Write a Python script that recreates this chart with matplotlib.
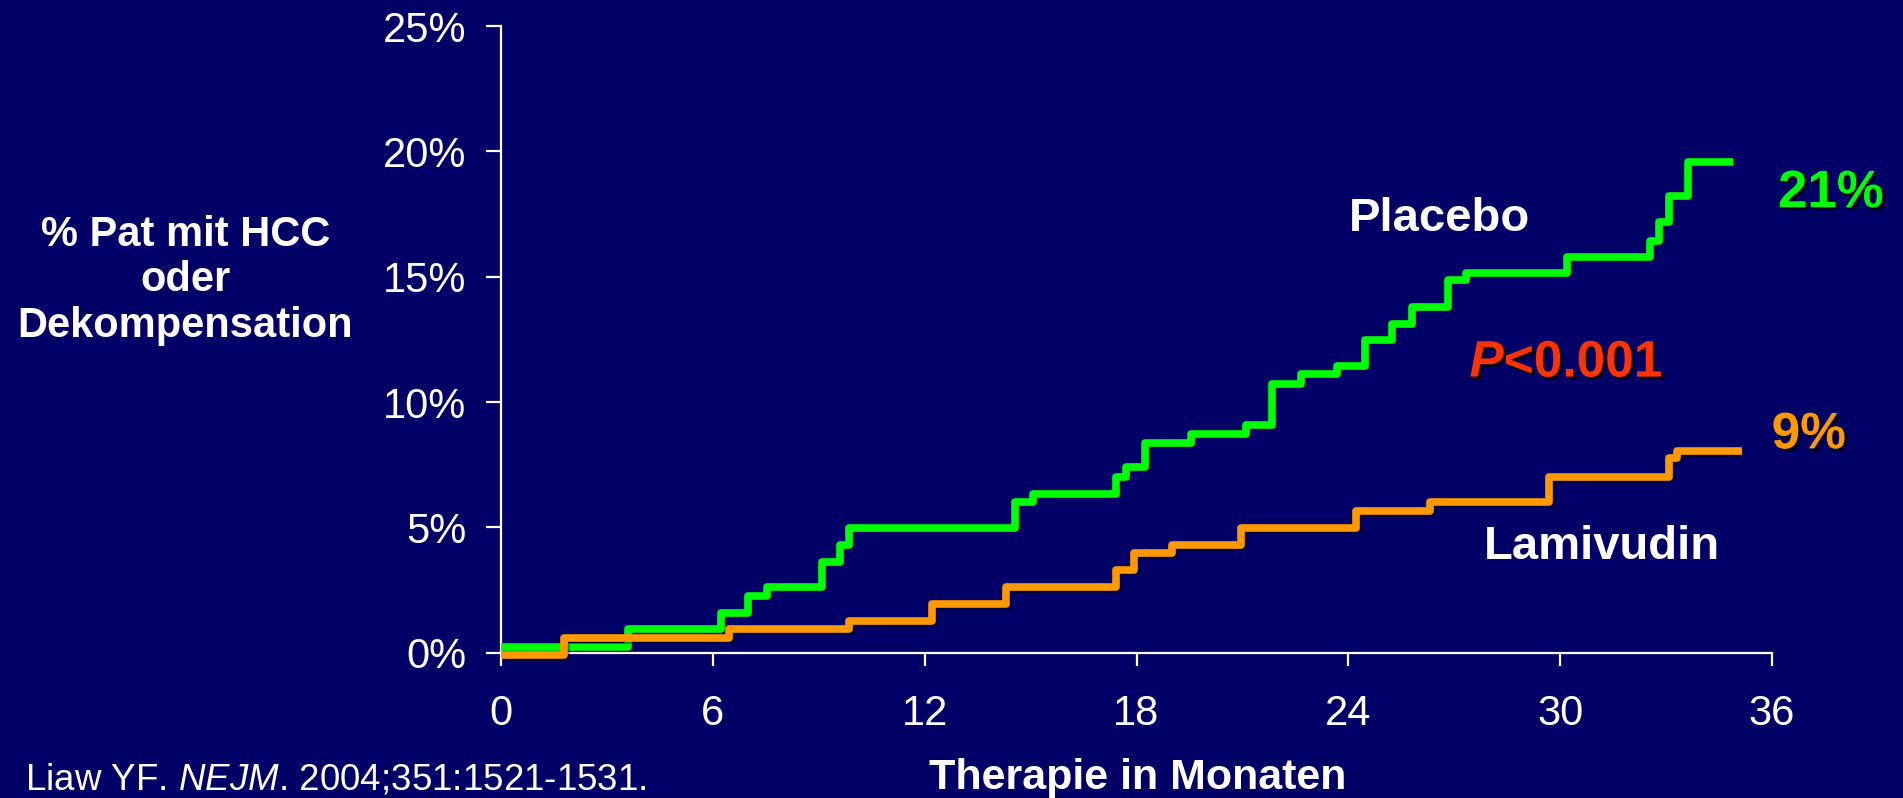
import matplotlib
matplotlib.use("Agg")
import matplotlib.pyplot as plt
import matplotlib.patheffects as pe

# Kaplan-Meier style step data (months, % patients with event)
months_placebo = [0, 3.61, 6.23, 6.99, 7.53, 9.09, 9.61, 9.87, 14.57, 15.08,
                  17.42, 17.69, 18.23, 19.53, 21.09, 21.85, 22.65, 23.69, 24.46,
                  25.25, 25.79, 26.81, 27.32, 30.2, 32.54, 32.8, 33.08, 33.61, 34.89]
pct_placebo = [0.24, 0.93, 1.59, 2.26, 2.63, 3.63, 4.29, 4.98, 6.02, 6.35,
               7.01, 7.39, 8.37, 8.71, 9.07, 10.73, 11.1, 11.45, 12.46,
               13.12, 13.78, 14.85, 15.14, 15.8, 16.44, 17.17, 18.23, 19.56, 19.56]

months_lamivudin = [0, 1.79, 6.47, 9.87, 12.21, 14.31, 17.42, 17.94, 19.01,
                    20.95, 24.21, 26.3, 29.68, 33.08, 33.32, 35.14]
pct_lamivudin = [-0.1, 0.57, 0.93, 1.27, 1.94, 2.61, 3.29, 3.96, 4.29,
                 4.98, 5.66, 6.02, 7.01, 7.75, 8.05, 8.05]

x_ticks = [0, 6, 12, 18, 24, 30, 36]
y_ticks = [0, 5, 10, 15, 20, 25]
ylabel_lines = ["% Pat mit HCC", "oder", "Dekompensation"]

BG = "#000066"
GREEN = "#00FF00"
ORANGE = "#FF9900"
RED = "#FF3300"

plt.rcParams["font.family"] = ["Liberation Sans", "DejaVu Sans"]
plt.rcParams["mathtext.fontset"] = "custom"
plt.rcParams["mathtext.rm"] = "Liberation Sans"
plt.rcParams["mathtext.it"] = "Liberation Sans:italic"
plt.rcParams["mathtext.bf"] = "Liberation Sans:bold:italic"

W, H = 1903, 798
fig = plt.figure(figsize=(W / 100, H / 100), dpi=100, facecolor=BG)
ax = fig.add_axes([501 / W, (H - 652.7) / H, 1271 / W, 626.7 / H])
ax.set_facecolor(BG)

shadow = [pe.withSimplePatchShadow(offset=(2, -2), shadow_rgbFace="black", alpha=0.8)]

ax.plot(months_placebo, pct_placebo, drawstyle="steps-post", color=GREEN,
        lw=5.5, solid_capstyle="butt", clip_on=False, zorder=3)
ax.plot(months_lamivudin, pct_lamivudin, drawstyle="steps-post", color=ORANGE,
        lw=5.5, solid_capstyle="butt", clip_on=False, zorder=3,
        path_effects=[pe.SimpleLineShadow(offset=(1.5, -1.5), shadow_color="black", alpha=0.4),
                      pe.Normal()])

ax.set_xlim(0, 36)
ax.set_ylim(0, 25)
ax.set_xticks(x_ticks)
ax.set_yticks(y_ticks)
ax.set_yticklabels([f"{v}%" for v in y_ticks])

for s in ["top", "right"]:
    ax.spines[s].set_visible(False)
for s in ["left", "bottom"]:
    ax.spines[s].set_color("white")
    ax.spines[s].set_linewidth(1.6)

ax.tick_params(axis="x", colors="white", direction="out", length=9, width=1.6,
               labelsize=30, pad=21)
ax.tick_params(axis="y", colors="white", direction="out", length=10.8, width=1.6,
               labelsize=30, pad=14)

# annotations
ax.text(26.58, 16.83, "Placebo", color="white", fontsize=34, fontweight="bold",
        ha="center", va="baseline")
ax.text(31.17, 3.74, "Lamivudin", color="white", fontsize=34, fontweight="bold",
        ha="center", va="baseline")
ax.text(30.17, 11.01, r"$\mathbf{P}$<0.001", color=RED, fontsize=37, fontweight="bold",
        ha="center", va="baseline", path_effects=shadow)
ax.text(36.17, 17.77, "21%", color=GREEN, fontsize=38, fontweight="bold",
        ha="left", va="baseline", path_effects=shadow)
ax.text(35.99, 8.15, "9%", color=ORANGE, fontsize=37, fontweight="bold",
        ha="left", va="baseline", path_effects=shadow)

# y label, three centred lines
for line, base in zip(ylabel_lines, [246, 291, 336.7]):
    fig.text(185.5 / W, (H - base) / H, line, color="white", fontsize=30,
             fontweight="bold", ha="center", va="baseline")

fig.text(1137.5 / W, (H - 789) / H, "Therapie in Monaten", color="white",
         fontsize=31, fontweight="bold", ha="center", va="baseline")

fig.text(25 / W, (H - 789) / H, r"Liaw YF. $\mathit{NEJM}$. 2004;351:1521-1531.",
         color="white", fontsize=26.5, ha="left", va="baseline")

fig.savefig("out.png", dpi=100, facecolor=BG)
